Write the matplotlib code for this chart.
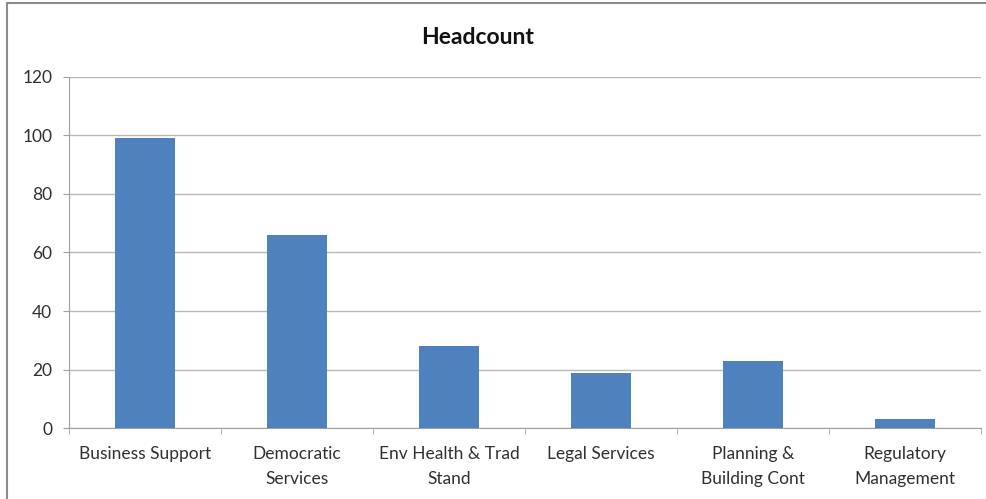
import numpy as np
import matplotlib
matplotlib.use('Agg')
import matplotlib.pyplot as plt
from matplotlib.patches import Rectangle

categories = ['Business Support', 'Democratic\nServices', 'Env Health & Trad\nStand',
              'Legal Services', 'Planning &\nBuilding Cont', 'Regulatory\nManagement']
headcount = [99, 66, 28, 19, 23, 3]

plt.rcParams['font.family'] = ['Lato', 'DejaVu Sans']

fig = plt.figure(figsize=(9.86, 4.99), dpi=100)
ax = fig.add_axes([0.070, 0.142, 0.925, 0.704])

x = np.arange(len(categories))
ax.bar(x, headcount, width=0.4, color='#4F81BD', zorder=3)

ax.set_xlim(-0.5, len(categories) - 0.5)
ax.set_ylim(0, 120)
ax.set_yticks(np.arange(0, 121, 20))
ax.yaxis.grid(True, color='#B8B8B8', linewidth=1, zorder=0)

ax.set_xticks(x)
ax.set_xticklabels(categories, fontsize=12.5, color='#303030', linespacing=1.65)
ax.set_xticks(np.arange(-0.5, len(categories)), minor=True)
ax.tick_params(axis='x', which='major', length=0, pad=13)
ax.tick_params(axis='x', which='minor', length=4, color='#A0A0A0')
ax.tick_params(axis='y', length=4, color='#A0A0A0', labelsize=12.5, labelcolor='#303030', pad=8)

for s in ['top', 'right']:
    ax.spines[s].set_visible(False)
for s in ['left', 'bottom']:
    ax.spines[s].set_color('#A0A0A0')

fig.text(478 / 986, 1 - 37 / 499, 'Headcount', fontsize=16.5, fontweight='bold',
         ha='center', va='center', color='#111111')

fig.patches.append(Rectangle((7 / 986, -0.1), 1.2, 1.1 - 3 / 499, transform=fig.transFigure,
                             fill=False, edgecolor='#8C8C8C', linewidth=1.5))

fig.savefig('out.png', dpi=100)
